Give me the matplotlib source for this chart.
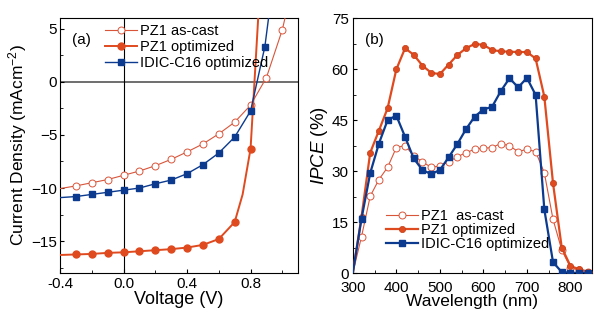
import numpy as np
import matplotlib
matplotlib.use("Agg")
import matplotlib.pyplot as plt
from matplotlib.ticker import MultipleLocator

plt.rcParams["font.family"] = ["Liberation Sans", "DejaVu Sans"]
plt.rcParams["mathtext.fontset"] = "custom"
plt.rcParams["mathtext.rm"] = "Liberation Sans"
plt.rcParams["mathtext.it"] = "Liberation Sans:italic"

# ---- J-V data (a) ----
v_cast = [-0.4, -0.3, -0.2, -0.1, 0.0, 0.1, 0.2, 0.3, 0.4, 0.5, 0.6, 0.7, 0.8, 0.9, 1.0, 1.02]
j_cast = [-10.05, -9.8, -9.5, -9.2, -8.8, -8.4, -7.9, -7.3, -6.6, -5.85, -4.9, -3.8, -2.2, 0.4, 4.9, 6.2]

v_opt = [-0.4, -0.3, -0.2, -0.1, 0.0, 0.1, 0.2, 0.3, 0.4, 0.5, 0.6, 0.7, 0.75, 0.8, 0.85]
j_opt = [-16.3, -16.25, -16.2, -16.1, -16.05, -15.95, -15.85, -15.75, -15.6, -15.35, -14.8, -13.2, -10.6, -6.3, 6.5]

v_idic = [-0.4, -0.3, -0.2, -0.1, 0.0, 0.1, 0.2, 0.3, 0.4, 0.5, 0.6, 0.7, 0.8, 0.89, 0.915]
j_idic = [-10.9, -10.8, -10.6, -10.4, -10.2, -10.0, -9.6, -9.25, -8.65, -7.8, -6.7, -5.2, -2.75, 3.3, 6.2]

# ---- IPCE data (b) ----
wl = [300, 320, 340, 360, 380, 400, 420, 440, 460, 480, 500, 520, 540, 560, 580,
      600, 620, 640, 660, 680, 700, 720, 740, 760, 780, 800, 820, 840]
ipce_cast = [0, 10.7, 22.6, 27.5, 31.1, 36.9, 37.5, 34.5, 32.7, 31.1, 31.5, 32.7, 34.2, 35.4, 36.4,
             36.7, 36.9, 38.1, 37.4, 35.7, 36.4, 35.7, 29.5, 15.8, 6.8, 1.6, 0.8, 0.4]
ipce_opt = [0, 16.5, 35.4, 41.9, 48.5, 59.9, 66.1, 64.2, 61.0, 58.9, 58.5, 61.3, 64.1, 66.1, 67.4,
            67.1, 65.6, 65.2, 65.1, 65.0, 65.0, 63.1, 51.9, 26.4, 7.5, 2.1, 1.1, 0.4]
ipce_idic = [0, 16.0, 29.4, 38.1, 45.0, 46.3, 40.1, 33.7, 30.3, 29.1, 30.3, 34.0, 37.9, 42.3, 46.0,
             48.1, 48.9, 53.5, 57.3, 54.6, 57.4, 52.4, 18.7, 3.2, 0.3, 0.1, 0, 0]

red_thin = "#d9553a"
red = "#e04a1f"
blue = "#0b3a8e"

fig = plt.figure(figsize=(6, 3.22), dpi=100)

# ---- panel (a) ----
ax1 = fig.add_axes([0.10, 0.152, 0.397, 0.792])
ax1.axhline(0, color="#555555", lw=1.2, zorder=1)
ax1.axvline(0, color="black", lw=0.8, zorder=1)
ax1.plot(v_cast, j_cast, color=red_thin, lw=0.8, marker="o", ms=5, mfc="white",
         mec=red_thin, mew=0.7, markevery=list(range(1, 15)), label="PZ1 as-cast", zorder=3)
ax1.plot(v_opt, j_opt, color=red, lw=1.4, marker="o", ms=5, mfc=red, mec=red,
         markevery=[1, 2, 3, 4, 5, 6, 7, 8, 9, 10, 11, 13], label="PZ1 optimized", zorder=3)
ax1.plot(v_idic, j_idic, color=blue, lw=1.0, marker="s", ms=4.5, mfc=blue, mec=blue,
         markevery=list(range(1, 14)), label="IDIC-C16 optimized", zorder=3)
ax1.set_xlim(-0.4, 1.1)
ax1.set_ylim(-18, 6)
ax1.xaxis.set_minor_locator(MultipleLocator(0.2))
ax1.yaxis.set_major_locator(MultipleLocator(5))
ax1.yaxis.set_minor_locator(MultipleLocator(2.5))
ax1.set_xticks([-0.4, 0.0, 0.4, 0.8])
ax1.set_xticklabels(["-0.4", "0.0", "0.4", "0.8"])
ax1.tick_params(direction="in", which="both", labelsize=11, pad=2)
ax1.tick_params(axis="x", pad=3)
ax1.tick_params(which="major", length=3)
ax1.tick_params(which="minor", length=2)
ax1.set_xlabel("Voltage (V)", fontsize=13, labelpad=0)
ax1.set_ylabel("Current Density (mAcm$^{-2}$)", fontsize=12.5, labelpad=2)
ax1.text(0.05, 0.94, "(a)", transform=ax1.transAxes, fontsize=11, va="top")
ax1.legend(loc="upper left", bbox_to_anchor=(0.19, 0.975), frameon=False, fontsize=10.5,
           handlelength=2.2, handletextpad=0.2, labelspacing=0.12, borderaxespad=0,
           borderpad=0)

# ---- panel (b) ----
ax2 = fig.add_axes([0.588, 0.152, 0.399, 0.792])
ax2.plot(wl, ipce_cast, color=red_thin, lw=0.8, marker="o", ms=5, mfc="white",
         mec=red_thin, mew=0.7, markevery=list(range(1, 28)), label="PZ1  as-cast", zorder=3)
ax2.plot(wl, ipce_opt, color=red, lw=1.6, marker="o", ms=4.5, mfc=red, mec="#c0401a",
         mew=0.5, markevery=list(range(1, 28)), label="PZ1 optimized", zorder=4)
ax2.plot(wl, ipce_idic, color=blue, lw=1.6, marker="s", ms=4.5, mfc=blue, mec=blue,
         markevery=list(range(1, 28)), label="IDIC-C16 optimized", zorder=5)
ax2.set_xlim(300, 850)
ax2.set_ylim(0, 75)
ax2.xaxis.set_major_locator(MultipleLocator(100))
ax2.xaxis.set_minor_locator(MultipleLocator(50))
ax2.yaxis.set_major_locator(MultipleLocator(15))
ax2.yaxis.set_minor_locator(MultipleLocator(7.5))
ax2.tick_params(direction="in", which="both", labelsize=11)
ax2.tick_params(axis="x", pad=6)
ax2.tick_params(axis="y", pad=3)
ax2.tick_params(which="major", length=3)
ax2.tick_params(which="minor", length=2)
ax2.set_xlabel("Wavelength (nm)", fontsize=12.5, labelpad=-1)
ax2.set_ylabel("$\\mathit{IPCE}$ (%)", fontsize=13.5, labelpad=1)
ax2.text(0.05, 0.94, "(b)", transform=ax2.transAxes, fontsize=11, va="top")
ax2.legend(loc="lower left", bbox_to_anchor=(0.14, 0.085), frameon=False, fontsize=10.5,
           handlelength=2.2, handletextpad=0.2, labelspacing=0.0, borderaxespad=0,
           borderpad=0)

fig.savefig("out.png", dpi=100)
